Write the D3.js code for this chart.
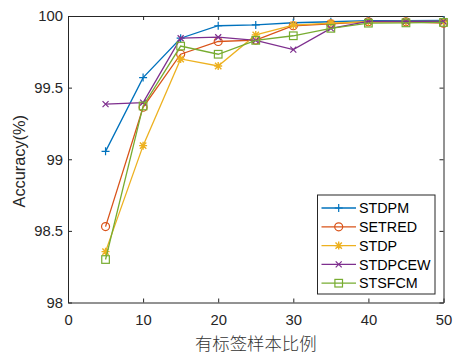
<!DOCTYPE html>
<html><head><meta charset="utf-8">
<script src="https://cdn.jsdelivr.net/npm/d3@7"></script>
<style>body{margin:0;background:#fff;} text{font-family:"Liberation Sans",Arial,sans-serif;}</style>
</head><body>
<svg id="c" width="455" height="354"></svg>
<script>
const xValues = [5,10,15,20,25,30,35,40,45,50];
const seriesNames = ["STDPM","SETRED","STDP","STDPCEW","STSFCM"];
const STDPM   = [99.055,99.57,99.845,99.932,99.938,99.953,99.96,99.968,99.968,99.97];
const SETRED  = [98.53,99.363,99.733,99.822,99.832,99.932,99.945,99.96,99.96,99.95];
const STDP    = [98.355,99.095,99.70,99.651,99.868,99.937,99.95,99.96,99.962,99.962];
const STDPCEW = [99.385,99.395,99.845,99.852,99.83,99.765,99.914,99.962,99.962,99.962];
const STSFCM  = [98.30,99.372,99.79,99.733,99.83,99.862,99.914,99.95,99.952,99.955];
const xTicks = [0,10,20,30,40,50];
const yTicks = [98,98.5,99,99.5,100];
const colors = ["#0072BD","#D95319","#EDB120","#7E2F8E","#77AC30"];
const markers = ["plus","circle","star","cross","square"];
const allSeries = [STDPM,SETRED,STDP,STDPCEW,STSFCM];

const svg = d3.select("#c");
const L=68,R=443.5,T=16,B=302.5;
const x = d3.scaleLinear().domain([0,50]).range([L,R]);
const y = d3.scaleLinear().domain([98,100]).range([B,T]);
const axisColor="#262626";

// axes
const gx = svg.append("g").attr("transform",`translate(0,${B})`)
  .call(d3.axisBottom(x).tickValues(xTicks).tickSizeInner(-4).tickSizeOuter(0).tickPadding(11.5).tickFormat(d3.format("d")));
const gy = svg.append("g").attr("transform",`translate(${L},0)`)
  .call(d3.axisLeft(y).tickValues(yTicks).tickSizeInner(-4).tickSizeOuter(0).tickPadding(5).tickFormat(d=>String(d)));
const gxt = svg.append("g").attr("transform",`translate(0,${T})`)
  .call(d3.axisTop(x).tickValues(xTicks).tickSizeInner(-4).tickSizeOuter(0).tickFormat(""));
const gyr = svg.append("g").attr("transform",`translate(${R},0)`)
  .call(d3.axisRight(y).tickValues(yTicks).tickSizeInner(-4).tickSizeOuter(0).tickFormat(""));
[gx,gy,gxt,gyr].forEach(g=>{
  g.select(".domain").attr("stroke",axisColor).attr("stroke-width",1);
  g.selectAll(".tick line").attr("stroke",axisColor);
  g.selectAll("text").attr("fill",axisColor).style("font-size","14.8px").style("font-family","'Liberation Sans',Arial,sans-serif");
});

function drawMarker(g, type, cx, cy, color){
  const s=4;
  if(type==="plus"){
    g.append("path").attr("d",`M${cx-s},${cy}H${cx+s}M${cx},${cy-s}V${cy+s}`).attr("stroke",color).attr("stroke-width",1.2).attr("fill","none");
  } else if(type==="circle"){
    g.append("circle").attr("cx",cx).attr("cy",cy).attr("r",4).attr("stroke",color).attr("stroke-width",1.2).attr("fill","none");
  } else if(type==="star"){
    const d=3.2;
    g.append("path").attr("d",`M${cx-s},${cy}H${cx+s}M${cx},${cy-s}V${cy+s}M${cx-d},${cy-d}L${cx+d},${cy+d}M${cx-d},${cy+d}L${cx+d},${cy-d}`).attr("stroke",color).attr("stroke-width",1.4).attr("fill","none");
  } else if(type==="cross"){
    const d=3;
    g.append("path").attr("d",`M${cx-d},${cy-d}L${cx+d},${cy+d}M${cx-d},${cy+d}L${cx+d},${cy-d}`).attr("stroke",color).attr("stroke-width",1.2).attr("fill","none");
  } else if(type==="square"){
    g.append("rect").attr("x",cx-3.8).attr("y",cy-3.8).attr("width",7.6).attr("height",7.6).attr("stroke",color).attr("stroke-width",1.2).attr("fill","none");
  }
}

const line = d3.line().x((d,i)=>x(xValues[i])).y(d=>y(d));
allSeries.forEach((vals,k)=>{
  const g = svg.append("g");
  g.append("path").datum(vals).attr("d",line).attr("fill","none").attr("stroke",colors[k]).attr("stroke-width",1.3);
  vals.forEach((v,i)=>drawMarker(g,markers[k],x(xValues[i]),y(v),colors[k]));
});

// legend
const lg = svg.append("g");
lg.append("rect").attr("x",317.5).attr("y",195).attr("width",117.5).attr("height",99).attr("fill","#fff").attr("stroke",axisColor).attr("stroke-width",1);
seriesNames.forEach((n,k)=>{
  const yy = 208 + k*18.8;
  lg.append("line").attr("x1",321.5).attr("x2",356).attr("y1",yy).attr("y2",yy).attr("stroke",colors[k]).attr("stroke-width",1.3);
  drawMarker(lg,markers[k],338.7,yy,colors[k]);
  lg.append("text").attr("x",359).attr("y",yy).attr("dy","0.36em").attr("fill","#000").style("font-size","14.3px").text(n);
});

// labels
svg.append("text").attr("transform",`translate(25,${(T+B)/2+2}) rotate(-90)`).attr("text-anchor","middle").attr("fill",axisColor)
  .style("font-size","16.3px").text("Accuracy(%)");
svg.append("text").attr("x",(L+R)/2).attr("y",349.5).attr("text-anchor","middle").attr("fill","#333")
  .style("font-size","17.4px").style("font-family","'Noto Sans CJK SC',sans-serif").style("font-weight","300").text("有标签样本比例");
</script>
</body></html>
